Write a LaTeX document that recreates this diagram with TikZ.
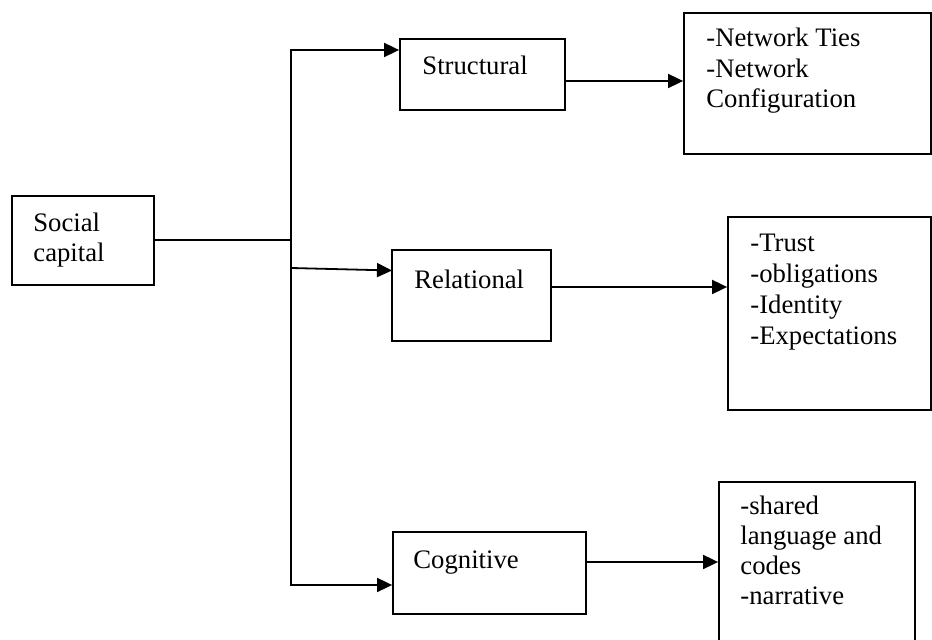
\documentclass[tikz,border=0pt]{standalone}
\usepackage{fontspec}
\setmainfont{Liberation Serif}
\usetikzlibrary{arrows.meta,calc}
\begin{document}
\begin{tikzpicture}[x=0.5pt,y=-0.5pt,
  box/.style={draw,line width=0.9pt,inner sep=0pt},
  lbl/.style={anchor=base west,inner sep=0pt,font=\fontsize{13.35pt}{15.25pt}\selectfont},
  conn/.style={line width=0.9pt},
  arr/.style={line width=0.9pt,-{Triangle[length=7.5pt,width=7pt]}}]
\useasboundingbox (0,0) rectangle (932,640);
\clip (0,0) rectangle (932,640);
\fill[white] (0,0) rectangle (932,640);

% boxes
\node[box,minimum width=71pt,minimum height=44.5pt] (soc) at (83,240.5) {};
\node[box,minimum width=82.5pt,minimum height=35.5pt] (struct) at (482.5,74.5) {};
\node[box,minimum width=79.5pt,minimum height=45.5pt] (rel) at (471.5,295.5) {};
\node[box,minimum width=96.5pt,minimum height=41pt] (cog) at (489.5,573) {};
\node[box,minimum width=123.5pt,minimum height=70.5pt] (b1) at (807.5,83.5) {};
\node[box,minimum width=101.5pt,minimum height=96.5pt] (b2) at (829.5,313.5) {};
\node[box,minimum width=98pt,minimum height=83pt] (b3) at (817,565) {};

% texts
\node[lbl] (tsoc1) at (33,232) {Social};
\node[lbl] (tsoc2) at (33,262) {capital};
\node[lbl] (tstruct) at (422,75) {Structural};
\node[lbl] (trel) at (414,289) {Relational};
\node[lbl] (tcog) at (413,569) {Cognitive};
\node[lbl] (tb1a) at (706,47) {-Network Ties};
\node[lbl] (tb1b) at (706,78) {-Network};
\node[lbl] (tb1c) at (706,108) {Configuration};
\node[lbl] (tb2a) at (750,252) {-Trust};
\node[lbl] (tb2b) at (750,283) {-obligations};
\node[lbl] (tb2c) at (750,314) {-Identity};
\node[lbl] (tb2d) at (750,345) {-Expectations};
\node[lbl] (tb3a) at (740,515) {-shared};
\node[lbl] (tb3b) at (740,545) {language and};
\node[lbl] (tb3c) at (740,575) {codes};
\node[lbl] (tb3d) at (740,605) {-narrative};

% junction coordinates
\coordinate (jm) at (291,240);
\coordinate (jt) at (291,50);
\coordinate (jr) at (291,268);
\coordinate (jb) at (291,585);
\coordinate (rin) at (392,270.5);
\coordinate (ys) at (0,81);
\coordinate (yr) at (0,287);
\coordinate (yc) at (0,562);

% connectors
\draw[conn] (soc.east |- jm) -- (jm);
\draw[conn,line cap=rect] (jt) -- (jb);
\draw[arr] (jt) -- (jt -| struct.west);
\draw[arr] (jr) -- (rin);
\draw[arr] (jb) -- (jb -| cog.west);
\draw[arr] (struct.east |- ys) -- (b1.west |- ys);
\draw[arr] (rel.east |- yr) -- (b2.west |- yr);
\draw[arr] (cog.east |- yc) -- (b3.west |- yc);
\end{tikzpicture}
\end{document}
